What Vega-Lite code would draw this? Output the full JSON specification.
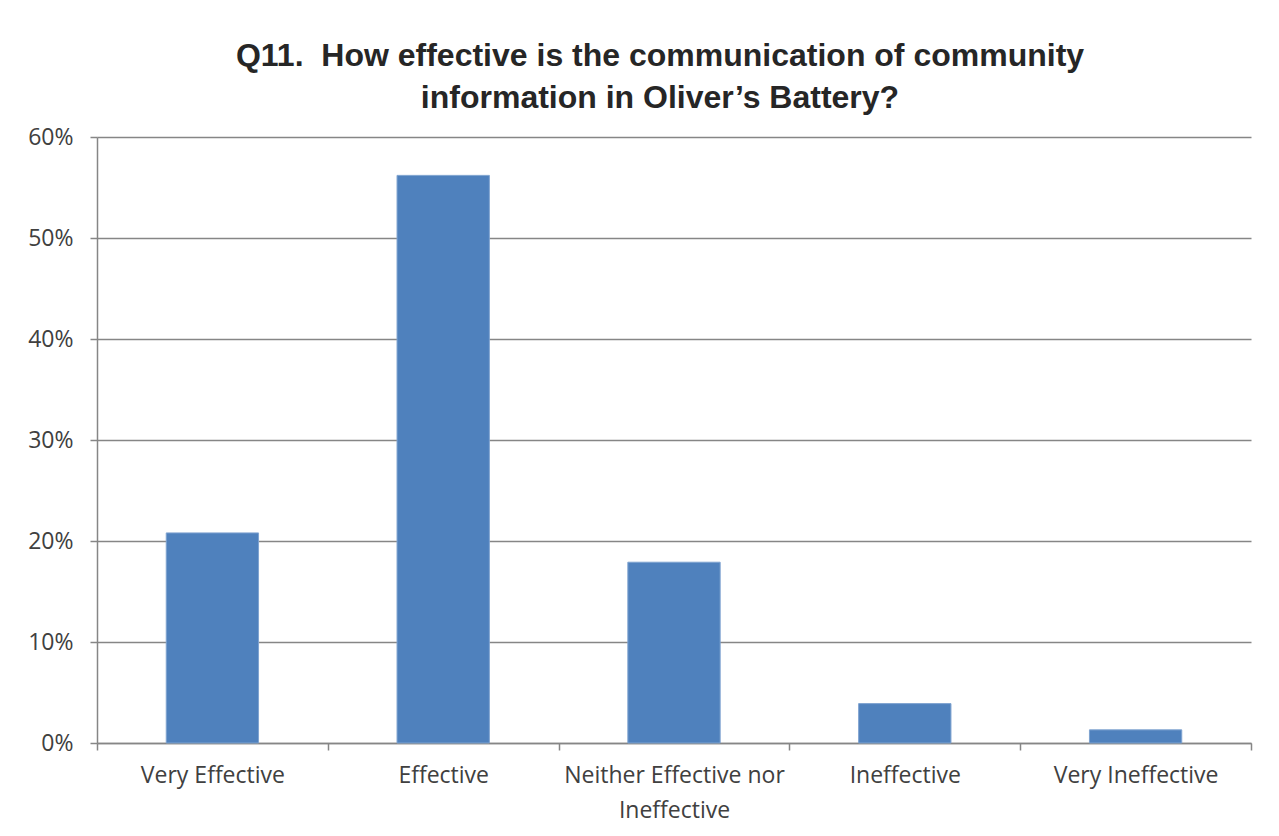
{
  "$schema": "https://vega.github.io/schema/vega-lite/v6.json",
  "autosize": "none",
  "width": 1154,
  "height": 606,
  "padding": {"left": 97, "top": 137, "right": 28, "bottom": 93},
  "background": "white",
  "title": {
    "text": ["Q11.\u00a0 How effective is the communication of community", "information in Oliver’s Battery?"],
    "font": "Liberation Sans",
    "fontSize": 32,
    "fontWeight": "bold",
    "color": "#262626",
    "anchor": "middle",
    "lineHeight": 42,
    "dx": -14,
    "offset": 11
  },
  "data": {
    "values": [
      {"category": "Very Effective", "share": 0.208},
      {"category": "Effective", "share": 0.562},
      {"category": "Neither Effective nor Ineffective", "share": 0.179},
      {"category": "Ineffective", "share": 0.039},
      {"category": "Very Ineffective", "share": 0.013}
    ]
  },
  "mark": {"type": "bar", "color": "#4F81BD", "stroke": "#7FA3D0", "strokeWidth": 1, "width": {"band": 0.4}},
  "encoding": {
    "x": {
      "field": "category",
      "type": "nominal",
      "sort": null,
      "scale": {"paddingInner": 0, "paddingOuter": 0},
      "axis": {
        "title": null,
        "labelAngle": 0,
        "tickBand": "extent",
        "labelFont": "Open Sans",
        "labelFontSize": 23,
        "labelColor": "#404040",
        "labelPadding": 14,
        "labelLimit": 400,
        "labelLineHeight": 35,
        "labelExpr": "datum.label == 'Neither Effective nor Ineffective' ? ['Neither Effective nor', 'Ineffective'] : datum.label",
        "domainColor": "#868686",
        "domainWidth": 1.5,
        "tickColor": "#868686",
        "tickWidth": 1.5,
        "tickSize": 7,
        "grid": false
      }
    },
    "y": {
      "field": "share",
      "type": "quantitative",
      "scale": {"domain": [0, 0.6], "nice": false},
      "axis": {
        "title": null,
        "format": ".0%",
        "values": [0, 0.1, 0.2, 0.3, 0.4, 0.5, 0.6],
        "labelFont": "Open Sans",
        "labelFontSize": 23,
        "labelColor": "#404040",
        "labelPadding": 17,
        "domainColor": "#868686",
        "domainWidth": 1.5,
        "tickColor": "#868686",
        "tickWidth": 1.5,
        "tickSize": 7,
        "gridColor": "#868686",
        "gridWidth": 1.5
      }
    }
  },
  "config": {"view": {"stroke": null}}
}
